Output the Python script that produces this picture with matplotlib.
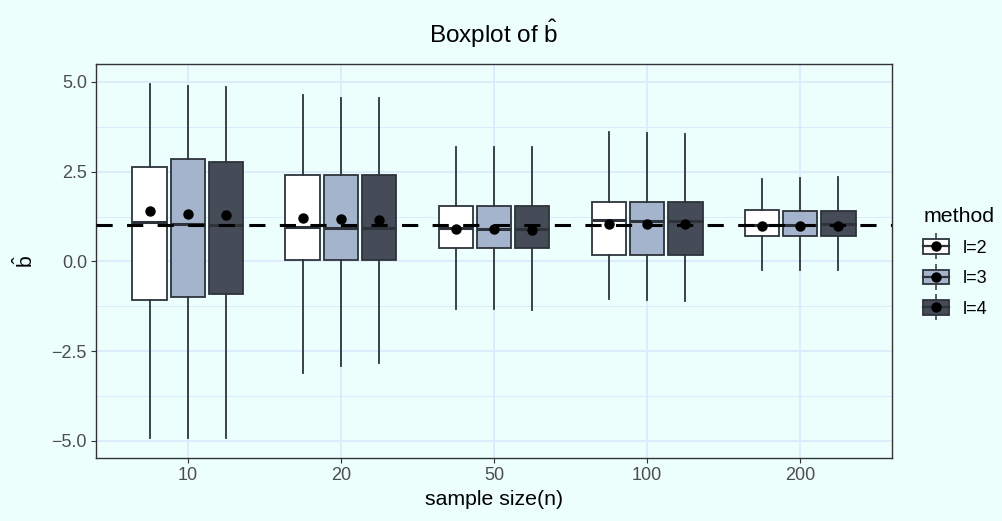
import matplotlib
matplotlib.use("Agg")
import matplotlib.pyplot as plt
from matplotlib.lines import Line2D
from matplotlib.patches import Patch
from matplotlib.legend_handler import HandlerTuple

_bg = "#ECFFFD"
_grid = "#DCEBFB"
_edge = "#2E333B"
_fills = ["#FFFFFF", "#A3B4CC", "#464C57"]

plt.rcParams["font.family"] = ["Liberation Sans", "DejaVu Sans"]
plt.rcParams["mathtext.fontset"] = "custom"
plt.rcParams["mathtext.rm"] = "Liberation Sans"
plt.rcParams["mathtext.it"] = "Liberation Sans"

sizes = ["10", "20", "50", "100", "200"]
methods = ["l=2", "l=3", "l=4"]

# l=2
l2_whislo = [-4.93, -3.10, -1.32, -1.04, -0.24]
l2_q1 = [-1.08, 0.04, 0.38, 0.18, 0.72]
l2_med = [1.10, 0.96, 0.93, 1.15, 1.02]
l2_q3 = [2.63, 2.40, 1.55, 1.66, 1.42]
l2_whishi = [4.94, 4.63, 3.19, 3.61, 2.30]
l2_mean = [1.40, 1.20, 0.89, 1.03, 0.98]

# l=3
l3_whislo = [-4.93, -2.91, -1.33, -1.08, -0.24]
l3_q1 = [-1.00, 0.04, 0.37, 0.18, 0.71]
l3_med = [1.05, 0.94, 0.91, 1.12, 1.02]
l3_q3 = [2.84, 2.40, 1.55, 1.66, 1.41]
l3_whishi = [4.89, 4.56, 3.19, 3.57, 2.33]
l3_mean = [1.32, 1.17, 0.89, 1.03, 0.98]

# l=4
l4_whislo = [-4.93, -2.83, -1.35, -1.10, -0.24]
l4_q1 = [-0.90, 0.04, 0.36, 0.18, 0.71]
l4_med = [1.01, 0.94, 0.91, 1.12, 1.03]
l4_q3 = [2.78, 2.40, 1.55, 1.66, 1.41]
l4_whishi = [4.87, 4.54, 3.20, 3.55, 2.34]
l4_mean = [1.29, 1.16, 0.88, 1.03, 0.98]

true_b = 1.0

series = [
    (l2_whislo, l2_q1, l2_med, l2_q3, l2_whishi, l2_mean),
    (l3_whislo, l3_q1, l3_med, l3_q3, l3_whishi, l3_mean),
    (l4_whislo, l4_q1, l4_med, l4_q3, l4_whishi, l4_mean),
]

fig = plt.figure(figsize=(10.03, 5.21), dpi=100, facecolor=_bg)
ax = fig.add_axes([96 / 1003, 1 - 458 / 521, (892 - 96) / 1003, (458 - 64) / 521])
ax.set_facecolor(_bg)

_offsets = [-0.25, 0.0, 0.25]
_width = 0.225

for k, (wlo, q1, med, q3, whi, mean) in enumerate(series):
    stats = []
    for i in range(len(sizes)):
        stats.append(
            dict(med=med[i], q1=q1[i], q3=q3[i], whislo=wlo[i], whishi=whi[i],
                 mean=mean[i], fliers=[])
        )
    pos = [i + 1 + _offsets[k] for i in range(len(sizes))]
    ax.bxp(
        stats,
        positions=pos,
        widths=_width,
        patch_artist=True,
        showcaps=False,
        showfliers=False,
        showmeans=True,
        manage_ticks=False,
        boxprops=dict(facecolor=_fills[k], edgecolor=_edge, linewidth=1.3),
        whiskerprops=dict(color=_edge, linewidth=1.3),
        medianprops=dict(color=_edge, linewidth=2.2, solid_capstyle="butt"),
        meanprops=dict(marker="o", markerfacecolor="black", markeredgecolor="black",
                       markersize=6.5, zorder=5),
    )

ax.axhline(true_b, color="black", lw=2.2, ls=(0, (5.3, 4.7)), zorder=4)

ax.set_xlim(0.4, len(sizes) + 0.6)
ax.set_ylim(-5.48, 5.5)
ax.set_xticks(range(1, len(sizes) + 1))
ax.set_xticklabels(sizes)
ax.set_yticks([-5, -2.5, 0, 2.5, 5])
ax.set_yticklabels(["\u22125.0", "\u22122.5", "0.0", "2.5", "5.0"])
ax.set_yticks([-3.75, -1.25, 1.25, 3.75], minor=True)
ax.tick_params(axis="both", which="major", labelsize=13, labelcolor="#4D4D4D",
               color="#333333", length=3.5, width=0.8, pad=3)
ax.tick_params(axis="y", which="minor", length=0)
ax.grid(which="major", color=_grid, lw=1.3, zorder=0)
ax.grid(which="minor", axis="y", color=_grid, lw=0.7, zorder=0)
ax.set_axisbelow(True)
for s in ax.spines.values():
    s.set_color("#333333")
    s.set_linewidth(1.0)

fig.text(494 / 1003, 1 - 43 / 521, r"Boxplot of $\hat{\mathrm{b}}$", ha="center",
         va="baseline", fontsize=17.5)
fig.text(494 / 1003, 1 - 505 / 521, "sample size(n)", ha="center", va="baseline",
         fontsize=15.3)
fig.text(25 / 1003, 1 - 262 / 521, r"$\hat{\mathrm{b}}$", ha="center", va="center",
         rotation=90, fontsize=15.3)

handles = []
for k in range(len(methods)):
    handles.append(
        (
            Line2D([], [], marker="|", markersize=19, markeredgewidth=1.1,
                   color=_edge, ls="none"),
            Patch(facecolor=_fills[k], edgecolor=_edge, linewidth=1.3),
            Line2D([], [], color=_edge, lw=1.6),
            Line2D([], [], marker="o", markersize=6.5, color="black", ls="none"),
        )
    )

leg = fig.legend(
    handles,
    methods,
    handler_map={tuple: HandlerTuple(ndivide=1, pad=0)},
    title="method",
    loc="upper left",
    bbox_to_anchor=(909 / 1003, 1 - 193 / 521),
    frameon=False,
    fontsize=13,
    title_fontsize=15.3,
    handlelength=1.39,
    handleheight=0.85,
    handletextpad=0.8,
    labelspacing=0.72,
    borderpad=0.3,
    alignment="left",
)

fig.savefig("out.png", dpi=100, facecolor=_bg)
